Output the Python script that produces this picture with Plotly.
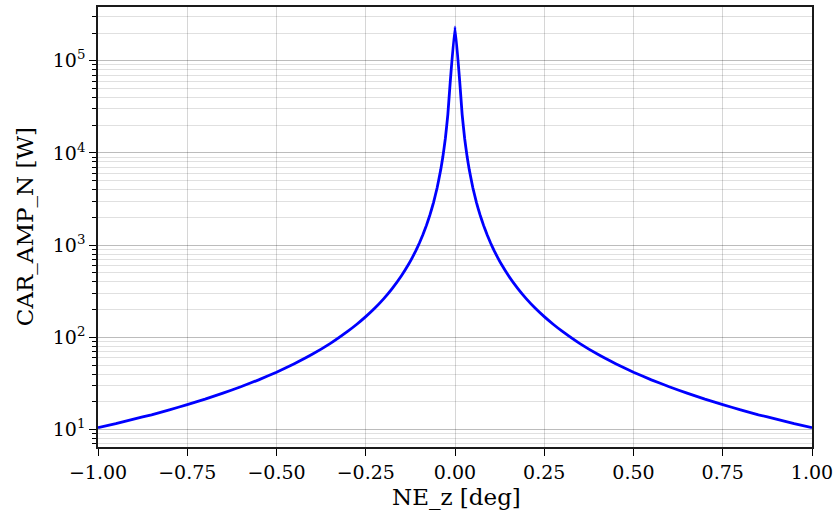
import plotly.graph_objects as go

# Values
ne_z = [-1.0, -0.95, -0.9, -0.85, -0.8, -0.75, -0.7, -0.65, -0.6, -0.55, -0.5,
        -0.45, -0.4, -0.35, -0.3, -0.275, -0.25, -0.225, -0.2, -0.175, -0.15,
        -0.13, -0.12, -0.11, -0.1, -0.09, -0.08, -0.07, -0.06, -0.05, -0.04,
        -0.034, -0.027, -0.02, -0.0134, 0.0, 0.0134, 0.02, 0.027,
        0.034, 0.04, 0.05, 0.06, 0.07, 0.08, 0.09, 0.1, 0.11, 0.12, 0.13,
        0.15, 0.175, 0.2, 0.225, 0.25, 0.275, 0.3, 0.35, 0.4, 0.45, 0.5,
        0.55, 0.6, 0.65, 0.7, 0.75, 0.8, 0.85, 0.9, 0.95, 1.0]
car_amp_n = [10.5, 11.6, 13.0, 14.5, 16.4, 18.7, 21.4, 24.9, 29.2, 34.7, 42.0,
             51.9, 65.6, 85.7, 117, 139, 168, 207, 262, 343, 467,
             621, 729, 868, 1050, 1296, 1641, 2143, 2917, 4200, 6563,
             9083, 14400, 26250, 58500, 233000, 58500, 26250, 14400,
             9083, 6563, 4200, 2917, 2143, 1641, 1296, 1050, 868, 729, 621,
             467, 343, 262, 207, 168, 139, 117, 85.7, 65.6, 51.9, 42.0,
             34.7, 29.2, 24.9, 21.4, 18.7, 16.4, 14.5, 13.0, 11.6, 10.5]

x_tickvals = [-1.0, -0.75, -0.5, -0.25, 0.0, 0.25, 0.5, 0.75, 1.0]
x_ticktext = ["\u22121.00", "\u22120.75", "\u22120.50", "\u22120.25", "0.00",
              "0.25", "0.50", "0.75", "1.00"]
y_tickvals = [1e1, 1e2, 1e3, 1e4, 1e5]
y_ticktext = ["10<sup>1</sup>", "10<sup>2</sup>", "10<sup>3</sup>",
              "10<sup>4</sup>", "10<sup>5</sup>"]
x_title = "NE_z [deg]"
y_title = "CAR_AMP_N [W]"

FONT = "DejaVu Serif"

fig = go.Figure()
fig.add_trace(go.Scatter(x=ne_z, y=car_amp_n, mode="lines",
                         line=dict(color="#0000ff", width=2.8, shape="spline",
                                   smoothing=0.3),
                         showlegend=False))

fig.update_layout(
    width=836, height=513,
    margin=dict(l=98, r=24, t=7, b=66),
    paper_bgcolor="white", plot_bgcolor="white",
    font=dict(family=FONT, color="black", size=19),
)
fig.update_xaxes(
    range=[-1, 1], tickvals=x_tickvals, ticktext=x_ticktext,
    automargin=False,
    ticks="outside", ticklen=7, tickwidth=1.3, tickcolor="black",
    showline=True, linecolor="#1a1a1a", linewidth=1.6, mirror=True,
    showgrid=True, gridcolor="rgba(0,0,0,0.16)", gridwidth=1,
    zeroline=False,
    tickfont=dict(size=19, family=FONT, color="black"),
)
fig.update_yaxes(
    type="log", range=[0.812, 5.583],
    tickvals=y_tickvals, ticktext=y_ticktext,
    automargin=False,
    ticks="outside", ticklen=7, tickwidth=1.3, tickcolor="black",
    showline=True, linecolor="#1a1a1a", linewidth=1.6, mirror=True,
    showgrid=True, gridcolor="rgba(0,0,0,0.16)", gridwidth=1,
    zeroline=False,
    minor=dict(ticks="outside", ticklen=4, tickcolor="black", tickwidth=1,
               showgrid=True, gridcolor="rgba(0,0,0,0.12)", gridwidth=1,
               dtick="D1"),
    tickfont=dict(size=19, family=FONT, color="black"),
)
fig.add_annotation(text=x_title, xref="paper", yref="paper",
                   x=0.502, y=-0.114, xanchor="center", yanchor="middle",
                   showarrow=False, font=dict(size=23, family=FONT, color="black"))
fig.add_annotation(text=y_title, xref="paper", yref="paper",
                   x=-0.102, y=0.5, xanchor="center", yanchor="middle",
                   textangle=-90, showarrow=False,
                   font=dict(size=23, family=FONT, color="black"))

fig.write_html("out.html")
